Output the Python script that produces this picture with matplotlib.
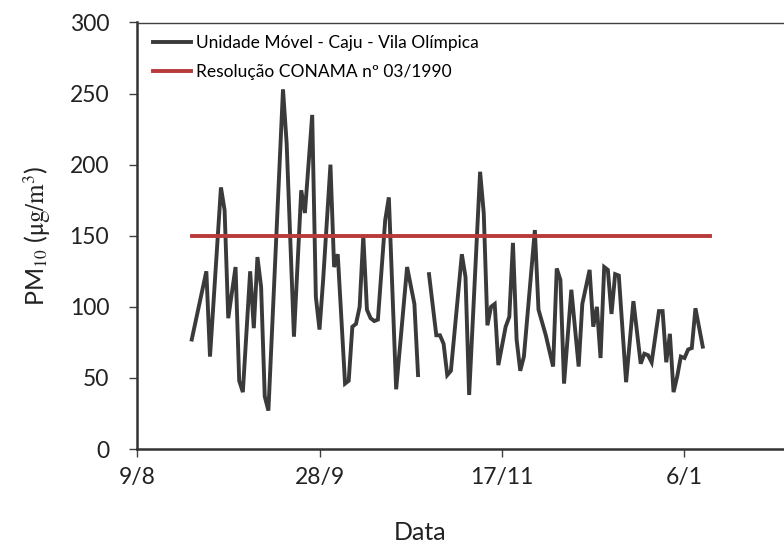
import numpy as np
import matplotlib
matplotlib.use("Agg")
import matplotlib.pyplot as plt

plt.rcParams['font.family'] = ['Lato', 'DejaVu Sans']
plt.rcParams['mathtext.fontset'] = 'stix'

# Days since 9/8 and PM10 values (ug/m3); NaN marks the gap in the record
days = [15, 19, 20, 23, 24, 25, 27, 28, 29, 31, 32, 33, 34, 35, 36, 40, 41, 43, 45, 46,
        48, 49, 50, 51, 53, 54, 55, 57, 58, 59, 60, 61, 62, 63, 64, 65, 66, 68, 69, 71,
        74, 76, 77, 78, 80, 82, 83, 84, 85, 86, 89, 90, 91, 94, 95, 96, 97, 98, 99, 101,
        102, 103, 104, 105, 106, 109, 110, 112, 114, 115, 116, 117, 119, 121, 122, 124, 125, 126, 127, 128,
        129, 130, 131, 132, 134, 136, 138, 139, 140, 141, 143, 144, 145, 146, 147, 148, 149, 150, 151, 152,
        153, 155]
pm10 = [77, 125, 65, 184, 168, 92, 128, 48, 40, 125, 85, 135, 114, 37, 27, 253, 215, 79, 182, 166,
        235, 107, 84, 119, 200, 128, 137, 46, 48, 86, 88, 100, 150, 98, 92, 90, 91, 161, 177, 42,
        128, 102, 52, np.nan, 123, 80, 80, 74, 52, 55, 137, 121, 38, 195, 166, 87, 100, 102, 59, 86,
        93, 145, 77, 55, 65, 154, 98, 80, 58, 127, 119, 46, 112, 58, 102, 126, 86, 100, 64, 128,
        126, 95, 123, 122, 47, 104, 60, 67, 66, 61, 97, 97, 61, 81, 40, 51, 65, 64, 70, 71,
        99, 72]

conama_days = [15, 157]
conama_vals = [150, 150]

tick_days = [0, 50, 100, 150]
tick_labels = ["9/8", "28/9", "17/11", "6/1"]

fig = plt.figure(figsize=(7.84, 5.49), dpi=100)
ax = fig.add_axes([137/784, 100/549, 730/784, 426.5/549])

ax.plot(days, pm10, color='#3a3a3a', lw=2.8, solid_joinstyle='miter',
        label='Unidade Móvel - Caju - Vila Olímpica')
ax.plot(conama_days, conama_vals, color='#b83a3a', lw=2.8,
        label='Resolução CONAMA nº 03/1990')

ax.set_xlim(0, 200)
ax.set_ylim(0, 300)
ax.set_xticks(tick_days)
ax.set_xticklabels(tick_labels)
ax.set_yticks([0, 50, 100, 150, 200, 250, 300])

for s in ['left', 'bottom']:
    ax.spines[s].set_color('#333333')
    ax.spines[s].set_linewidth(1.8)
ax.spines['top'].set_color('#404040')
ax.spines['top'].set_linewidth(1.0)
ax.spines['right'].set_visible(False)

ax.tick_params(axis='both', direction='out', length=6, width=1, colors='#404040',
               labelsize=16.5, labelcolor='#222222')
ax.tick_params(axis='y', pad=14)
ax.tick_params(axis='x', pad=7)

ax.set_xlabel('Data', fontsize=18, color='#222222')
ax.xaxis.set_label_coords((420 - 137) / 730, -(533 - 449) / 426.5, transform=ax.transAxes)
ax.xaxis.label.set_va('center')
ax.set_ylabel('PM$_{10}$ ($\\mathrm{μg/m^3}$)', fontsize=18, color='#222222', labelpad=12)

leg = ax.legend(loc='upper left', frameon=False, fontsize=12.5, handlelength=2.2,
                handletextpad=0.3, labelspacing=0.75, borderaxespad=0.3,
                bbox_to_anchor=(0.005, 1.0))

fig.savefig('out.png', dpi=100)
